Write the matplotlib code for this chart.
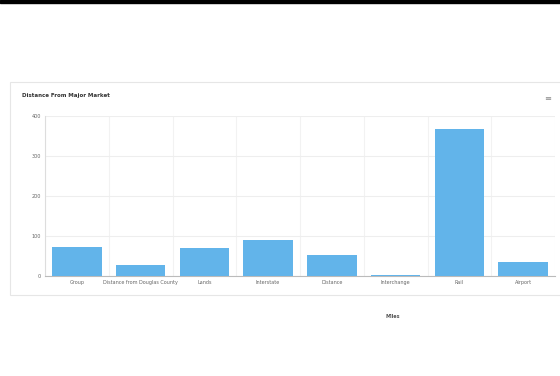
import matplotlib.pyplot as plt
from matplotlib.patches import Rectangle

categories = ["Group", "Distance from Douglas County", "Lands", "Interstate",
              "Distance", "Interchange", "Rail", "Airport"]
values = [72, 27, 70, 90, 52, 2, 367, 35]
yticks = [0, 100, 200, 300, 400]

fig = plt.figure(figsize=(5.6, 3.76), dpi=100)
fig.patch.set_facecolor("white")

# black strip at the very top
fig.add_artist(Rectangle((0, 1 - 3 / 376), 1, 3 / 376, transform=fig.transFigure,
                         color="black", zorder=0))
# chart panel
fig.add_artist(Rectangle((10 / 560, 1 - 295 / 376), 560 / 560, 213 / 376,
                         transform=fig.transFigure, facecolor="white",
                         edgecolor="#e6e6e6", lw=0.8, zorder=0))

ax = fig.add_axes([45 / 560, 1 - 276 / 376, 510 / 560, 160 / 376])
x = range(len(categories))
ax.bar(x, values, width=0.78, color="#62b4ea", zorder=3)
ax.set_xlim(-0.5, len(categories) - 0.5)
ax.set_ylim(0, 400)
ax.set_yticks(yticks)
ax.set_yticklabels([str(t) for t in yticks], fontsize=3.5, color="#666666")
ax.set_xticks(list(x))
ax.set_xticklabels(categories, fontsize=3.5, color="#666666")
ax.tick_params(length=0, pad=3)
ax.grid(axis="y", color="#eeeeee", lw=0.8, zorder=0)
# light vertical lines between categories
for i in range(len(categories) + 1):
    ax.axvline(i - 0.5, color="#f2f2f2", lw=0.8, zorder=0)
for s in ["top", "right"]:
    ax.spines[s].set_visible(False)
ax.spines["left"].set_color("#dddddd")
ax.spines["bottom"].set_color("#bbbbbb")

fig.text(22 / 560, 1 - 96 / 376, "Distance From Major Market", fontsize=4,
         fontweight="bold", color="#333333", va="center")
fig.text(548 / 560, 1 - 98 / 376, "\u2261", fontsize=6, color="#888888",
         va="center", ha="center")
fig.text(393 / 560, 1 - 316 / 376, "Miles", fontsize=3.5, fontweight="bold",
         color="#555555", ha="center", va="center")

fig.savefig("out.png", dpi=100)
